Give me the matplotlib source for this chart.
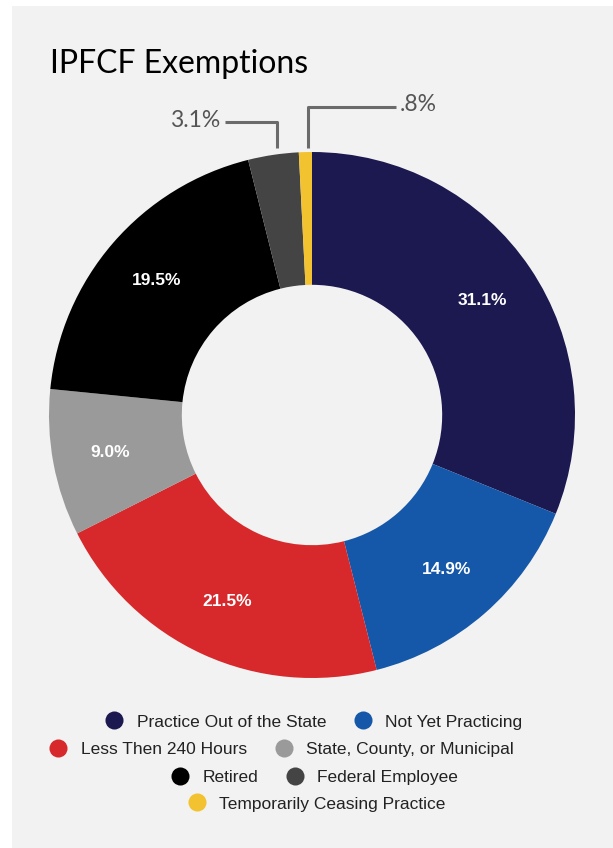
import matplotlib
matplotlib.use('Agg')
import matplotlib.pyplot as plt
from matplotlib.lines import Line2D
from matplotlib.patches import Rectangle
import numpy as np

categories = ['Practice Out of the State', 'Not Yet Practicing', 'Less Then 240 Hours',
              'State, County, or Municipal', 'Retired', 'Federal Employee',
              'Temporarily Ceasing Practice']
values = [31.1, 14.9, 21.5, 9.0, 19.5, 3.1, 0.8]
labels = ['31.1%', '14.9%', '21.5%', '9.0%', '19.5%', '3.1%', '.8%']
colors = ['#1c1850', '#1557a8', '#d7282b', '#9a9a9a', '#000000', '#444444', '#f2c230']

W, H = 613, 848
fig = plt.figure(figsize=(W / 100, H / 100), dpi=100)
fig.patch.set_facecolor('white')
fig.patches.append(Rectangle((12 / W, 0), 1 - 12 / W, 1 - 6 / H, transform=fig.transFigure,
                             facecolor='#f2f2f2', edgecolor='none', zorder=-5))

fig.text(50 / W, 1 - 64 / H, 'IPFCF Exemptions', fontsize=23, family='Lato',
         color='black', va='center', ha='left')

# pie axes: center (312, 415), radius 263 px
cx, cy, r = 312, 415, 263
ax = fig.add_axes([(cx - r) / W, 1 - (cy + r) / H, 2 * r / W, 2 * r / H])
ax.set_zorder(2)
wedges, _ = ax.pie(values, colors=colors, startangle=90, counterclock=False,
                   radius=1, wedgeprops=dict(width=0.505, edgecolor='none'))
ax.set_xlim(-1, 1)
ax.set_ylim(-1, 1)
ax.set_aspect('equal')
ax.axis('off')

cum = np.cumsum([0] + values)
tot = sum(values)
for i, lab in enumerate(labels[:5]):
    mid = 90 - 360 * (cum[i] + values[i] / 2) / tot
    x = 0.78 * np.cos(np.radians(mid))
    y = 0.78 * np.sin(np.radians(mid))
    ax.text(x, y, lab, color='white', fontsize=12.5, fontweight='bold',
            family='Liberation Sans', ha='center', va='center')

# callouts for the small slices
def fx(px):
    return (px - cx) / r

def fy(py):
    return (cy - py) / r

line_kw = dict(color='#6b6b6b', lw=2.2, clip_on=False, solid_capstyle='butt')
ax.plot([fx(225), fx(277), fx(277)], [fy(122), fy(122), fy(148)], **line_kw)
ax.plot([fx(308), fx(308), fx(396)], [fy(148), fy(107), fy(107)], **line_kw)
ax.text(fx(220), fy(120), labels[5], ha='right', va='center', fontsize=16.5,
        family='Lato', color='#555555')
ax.text(fx(400), fy(104), labels[6], ha='left', va='center', fontsize=16.5,
        family='Lato', color='#555555')

rows = [[0, 1], [2, 3], [4, 5], [6]]
row_y = [722, 749, 777, 804]
row_x = [313, 281, 314, 316]
for idxs, yy, xx in zip(rows, row_y, row_x):
    handles = [Line2D([], [], marker='o', linestyle='none', markersize=13,
                      markerfacecolor=colors[i], markeredgecolor='none') for i in idxs]
    leg = fig.legend(handles, [categories[i] for i in idxs], loc='center',
                     bbox_to_anchor=(xx / W, 1 - yy / H), ncol=len(idxs), frameon=False,
                     prop=dict(family='Liberation Sans', size=12.5),
                     handletextpad=0.7, columnspacing=1.5, handlelength=1.2)
    for t in leg.get_texts():
        t.set_color('#222222')

fig.savefig('out.png', dpi=100, facecolor=fig.get_facecolor())
